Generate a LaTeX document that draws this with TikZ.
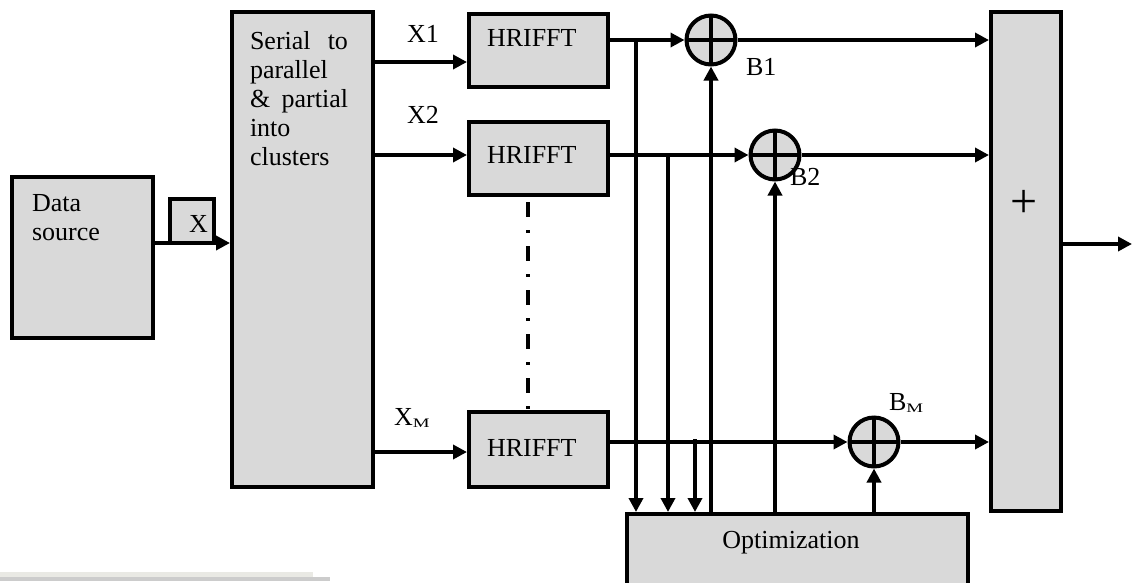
\documentclass[tikz,border=0pt]{standalone}
\usepackage{fontspec}
\setmainfont{Liberation Serif}
\usepackage{graphicx}
\usetikzlibrary{arrows.meta}
\definecolor{boxgray}{HTML}{D9D9D9}
\definecolor{barlight}{HTML}{E9E9E4}
\definecolor{bardark}{HTML}{CCCCCC}
\newcommand{\subM}{\raisebox{-2pt}{\scalebox{1.45}[1]{\fontsize{13}{13}\selectfont M}}}
\begin{document}
\begin{tikzpicture}[x=1pt,y=-1pt,
  txt/.style={font=\fontsize{26}{29}\selectfont, inner sep=0pt, outer sep=0pt},
  block/.style={draw, line width=4pt, fill=boxgray, rectangle, inner sep=0pt, anchor=north west},
  mixer/.style={draw, circle, line width=4pt, fill=boxgray, minimum size=49pt, inner sep=0pt,
    path picture={\draw[line width=3.5pt]
      (path picture bounding box.north) -- (path picture bounding box.south)
      (path picture bounding box.west) -- (path picture bounding box.east);}},
  sig/.style={line width=3.5pt},
  arr/.style={sig, -{Triangle[length=14pt,width=14pt]}},
  dashdot line/.style={line width=3.5pt, dash pattern=on 15pt off 13pt on 3pt off 13pt, dash phase=39pt}
]
\useasboundingbox (0,0) rectangle (1132,582);
\clip (0,0) rectangle (1132,582);

% faint bar along the lower edge
\fill[barlight] (0,572) rectangle (313,577);
\fill[bardark] (0,577) rectangle (330,581);

% blocks
\node[block, minimum width=141pt, minimum height=161pt] (src) at (10,175) {};
\node[block, minimum width=44pt, minimum height=44pt] (xb) at (167.5,196.5) {};
\node[block, minimum width=141pt, minimum height=475pt] (ser) at (230,10) {};
\node[block, minimum width=139pt, minimum height=73pt] (h1) at (467,12) {};
\node[block, minimum width=139pt, minimum height=73pt] (h2) at (467,120) {};
\node[block, minimum width=139pt, minimum height=75pt] (hM) at (467,410) {};
\node[block, minimum width=341pt, minimum height=80pt] (opt) at (625,512) {};
\node[block, minimum width=70pt, minimum height=499pt] (sum) at (989,10) {};

% phase multipliers
\node[mixer] (b1) at (711,40) {};
\node[mixer] (b2) at (775,155) {};
\node[mixer] (bM) at (874,442) {};

% block texts
\node[txt, anchor=north west, text width=80pt, align=left] (tsrc) at (32,194) {Data\\source};
\node[txt, anchor=base east] (tx) at (208,232) {X};
\node[txt, anchor=north west, text width=98pt, align=left] (tser) at (250,31)
  {Serial\hfill to\\parallel\\\&\hfill partial\\into\\clusters};
\node[txt, anchor=base west] (th1) at (487,46) {HRIFFT};
\node[txt, anchor=base west] (th2) at (487,163) {HRIFFT};
\node[txt, anchor=base west] (thM) at (487,456) {HRIFFT};
\node[txt, anchor=base] (topt) at (791,548) {Optimization};
\node[font=\fontsize{48}{48}\selectfont, inner sep=0pt] (tsum) at (1024,204) {+};

% signal labels
\node[txt, anchor=base west] (lx1) at (407,42) {X1};
\node[txt, anchor=base west] (lx2) at (407,123) {X2};
\node[txt, anchor=base west] (lxM) at (394,425) {X\subM};
\node[txt, anchor=base west] (lb1) at (746,75) {B1};
\node[txt, anchor=base west] (lb2) at (790,185) {B2};
\node[txt, anchor=base west] (lbM) at (889,410) {B\subM};

% tap points on the HRIFFT outputs
\coordinate (t1) at (636,40);
\coordinate (t2) at (668,155);
\coordinate (t3) at (695,439);
\coordinate (out) at (1132,244);

% source into serial-to-parallel
\draw[arr] (src.east |- 0,243) -- (ser.west |- 0,243);

% clusters into HRIFFT blocks
\draw[arr] (ser.east |- 0,62) -- (h1.west |- 0,62);
\draw[arr] (ser.east |- 0,155) -- (h2.west |- 0,155);
\draw[arr] (ser.east |- 0,452) -- (hM.west |- 0,452);
\draw[dashdot line] (h2.south -| 528,0) -- (hM.north -| 528,0);

% HRIFFT outputs through the multipliers to the adder
\draw[arr] (h1.east |- b1.west) -- (b1.west);
\draw[arr] (h2.east |- b2.west) -- (b2.west);
\draw[arr] (hM.east |- bM.west) -- (bM.west);
\draw[arr] (b1.east) -- (sum.west |- b1.east);
\draw[arr] (b2.east) -- (sum.west |- b2.east);
\draw[arr] (bM.east) -- (sum.west |- bM.east);
\draw[arr] (sum.east |- out) -- (out);

% taps into the optimizer
\draw[arr] (t1) -- (t1 |- opt.north);
\draw[arr] (t2) -- (t2 |- opt.north);
\draw[arr] (t3) -- (t3 |- opt.north);

% optimizer outputs to the multipliers
\draw[arr] (b1.south |- opt.north) -- (b1.south);
\draw[arr] (b2.south |- opt.north) -- (b2.south);
\draw[arr] (bM.south |- opt.north) -- (bM.south);
\end{tikzpicture}
\end{document}
